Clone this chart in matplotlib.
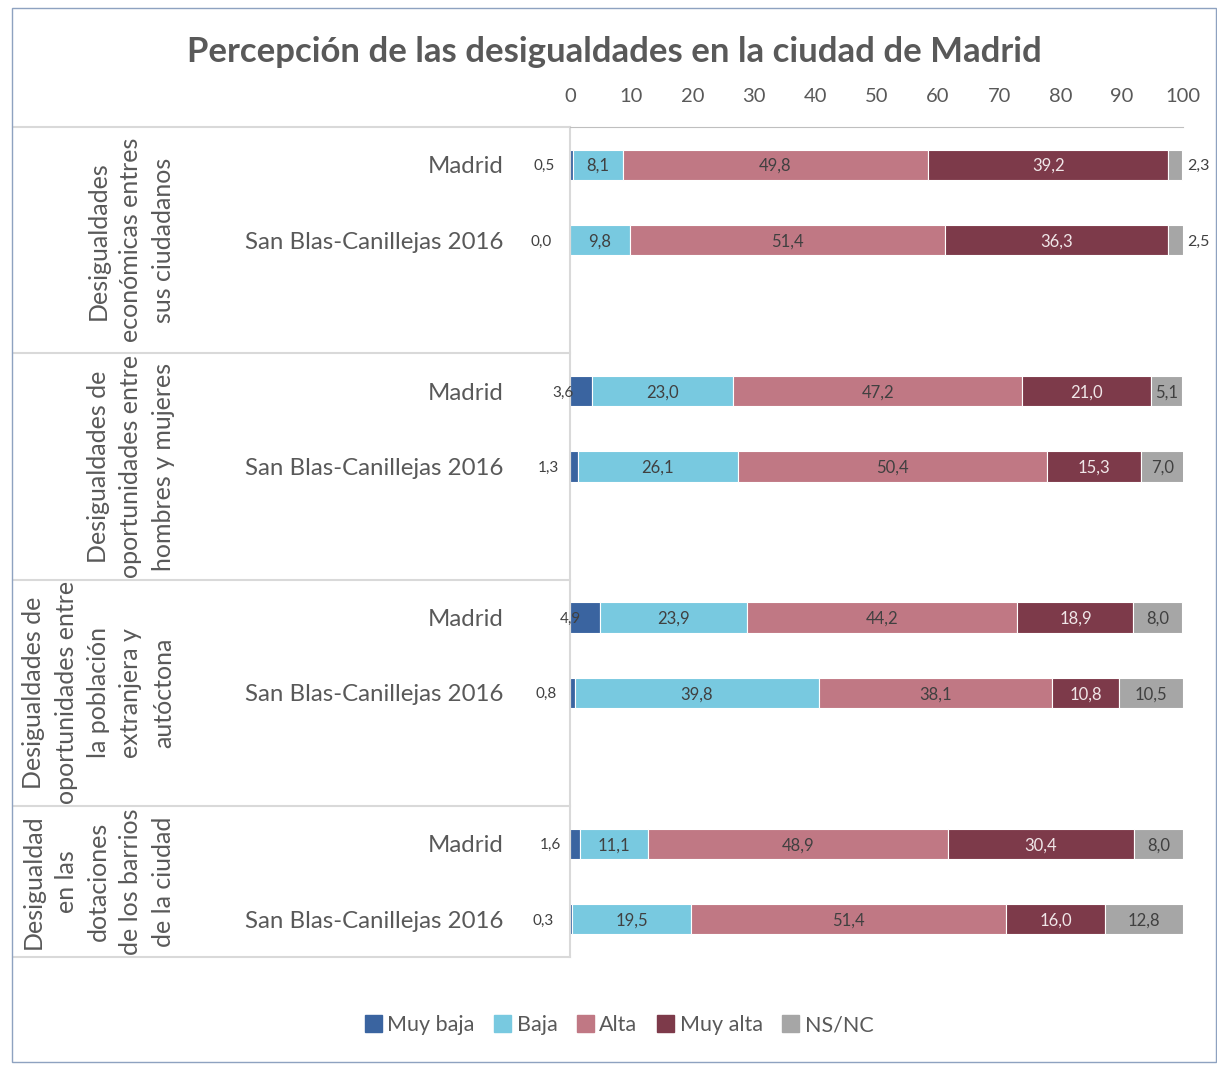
import matplotlib
matplotlib.use('Agg')
import matplotlib.pyplot as plt
import matplotlib.transforms as mtransforms
from matplotlib.patches import Rectangle, Patch

plt.rcParams['font.family'] = ['Lato', 'DejaVu Sans']

groups = ['Desigualdades\neconómicas entres\nsus ciudadanos',
          'Desigualdades de\noportunidades entre\nhombres y mujeres',
          'Desigualdades de\noportunidades entre\nla población\nextranjera y\nautóctona',
          'Desigualdad\nen las\ndotaciones\nde los barrios\nde la ciudad']
rows = ['Madrid', 'San Blas-Canillejas 2016']
series = ['Muy baja', 'Baja', 'Alta', 'Muy alta', 'NS/NC']

muy_baja = [0.5, 0.0, 3.6, 1.3, 4.9, 0.8, 1.6, 0.3]
baja = [8.1, 9.8, 23.0, 26.1, 23.9, 39.8, 11.1, 19.5]
alta = [49.8, 51.4, 47.2, 50.4, 44.2, 38.1, 48.9, 51.4]
muy_alta = [39.2, 36.3, 21.0, 15.3, 18.9, 10.8, 30.4, 16.0]
nsnc = [2.3, 2.5, 5.1, 7.0, 8.0, 10.5, 8.0, 12.8]

colors = ['#3A64A0', '#78C9E0', '#C07884', '#7D3A4A', '#A6A6A6']
text_col = '#595959'
W, H = 1217, 1066

def fmt(v):
    return f'{v:.1f}'.replace('.', ',')

# two rows per group, then an empty slot (none after the last group)
ypos = []
for g in range(len(groups)):
    for r in range(len(rows)):
        ypos.append(3 * g + r)
labels = rows * len(groups)

fig = plt.figure(figsize=(W / 100, H / 100), dpi=100)
ax = fig.add_axes([570 / W, 1 - 957 / H, (1183 - 570) / W, (957 - 127) / H])

data = [muy_baja, baja, alta, muy_alta, nsnc]
left = [0.0] * len(ypos)
for i, vals in enumerate(data):
    ax.barh(ypos, vals, left=left, height=0.4, color=colors[i],
            edgecolor='white', linewidth=0.8, label=series[i])
    for y, l, v in zip(ypos, left, vals):
        if i == 0:
            ax.annotate(fmt(v), (l + v, y), xytext=(-21, -1), textcoords='offset points',
                        ha='center', va='center', fontsize=11, color='#404040')
        elif i == 4 and v < 4:
            ax.annotate(fmt(v), (100, y), xytext=(3, -1), textcoords='offset points',
                        ha='left', va='center', fontsize=11.5, color='#404040')
        else:
            c = '#F0E6E8' if i == 3 else '#404040'
            ax.annotate(fmt(v), (l + v / 2, y), xytext=(0, -1), textcoords='offset points',
                        ha='center', va='center', fontsize=12, color=c)
    left = [a + b for a, b in zip(left, vals)]

ax.set_xlim(0, 100)
ax.set_ylim(10.5, -0.5)
ax.xaxis.tick_top()
ax.set_xticks(range(0, 101, 10))
ax.tick_params(axis='x', length=0, pad=16, labelsize=14.5, labelcolor=text_col)
ax.set_yticks(ypos)
ax.set_yticklabels(labels)
ax.tick_params(axis='y', length=0, pad=48, labelsize=17.3, labelcolor=text_col)
for s in ['right', 'bottom']:
    ax.spines[s].set_visible(False)
ax.spines['top'].set_color('#BFBFBF')
ax.spines['left'].set_color('#D9D9D9')
ax.spines['left'].set_linewidth(1.5)

# table lines and group labels on the left
tr = mtransforms.blended_transform_factory(fig.transFigure, ax.transData)
edges = [-0.5, 2.5, 5.5, 8.5, 10.5]
for e in edges:
    ax.plot([13 / W, 570 / W], [e, e], transform=tr, color='#D9D9D9', lw=1.5, clip_on=False)
for g, name in enumerate(groups):
    yc = (edges[g] + edges[g + 1]) / 2
    ax.text(175 / W, yc, name, transform=tr, rotation=90, ha='right', va='center',
            multialignment='center', fontsize=18, color=text_col, linespacing=1.5)

fig.text(614 / W, 1 - 52 / H, 'Percepción de las desigualdades en la ciudad de Madrid',
         ha='center', va='center', fontsize=25, fontweight='bold', color=text_col)

handles = [Patch(color=c) for c in colors]
fig.legend(handles, series, loc='center', bbox_to_anchor=(619 / W, 1 - 1025 / H), ncol=5,
           frameon=False, fontsize=15.5, labelcolor=text_col, handlelength=0.8,
           handleheight=0.8, handletextpad=0.25, columnspacing=0.9)

fig.patches.append(Rectangle((12 / W, 1 - 1062 / H), 1204 / W, 1054 / H, transform=fig.transFigure,
                             fill=False, edgecolor='#8EA2C0', lw=1))

fig.savefig('out.png', dpi=100)
